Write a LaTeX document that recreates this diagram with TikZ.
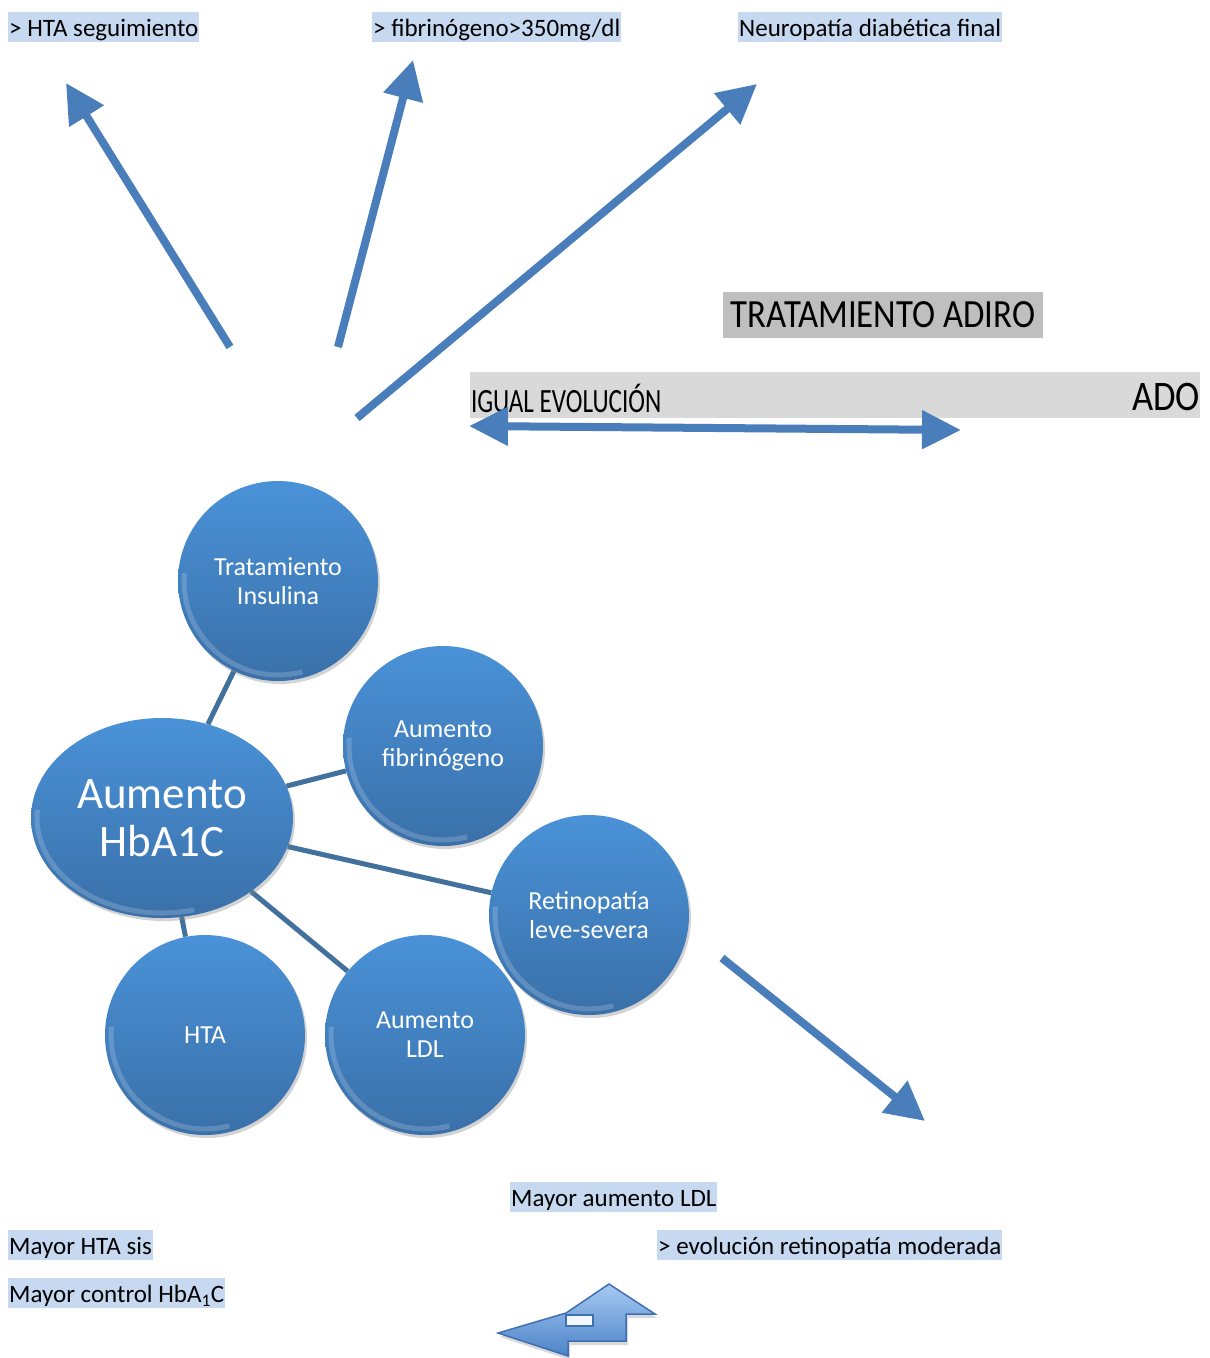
\documentclass[tikz,border=0pt]{standalone}
\usepackage{fontspec}
\setmainfont{Carlito}
\newfontfamily\narrowA[FakeStretch=0.74]{Carlito}
\newfontfamily\narrowB[FakeStretch=0.87]{Carlito}
\usetikzlibrary{arrows.meta,positioning,shapes.geometric,shadows,backgrounds}

\definecolor{tagblue}{HTML}{C6D9F1}
\definecolor{boxgray}{HTML}{BFBFBF}
\definecolor{bargray}{HTML}{D9D9D9}
\definecolor{arrowblue}{HTML}{4A7EBB}
\definecolor{linkblue}{HTML}{41719C}
\definecolor{balltop}{HTML}{4A92D8}
\definecolor{ballbot}{HTML}{3A70A9}
\definecolor{bendtop}{HTML}{A7C9F3}
\definecolor{bendbot}{HTML}{4C83C8}
\definecolor{bendline}{HTML}{3E70B2}

\tikzset{
  tag/.style={fill=tagblue, anchor=west, inner xsep=1pt, inner ysep=0pt,
    minimum height=30pt, text height=20pt, text depth=2pt,
    font=\fontsize{25}{28}\selectfont},
  ball/.style={circle, minimum size=200pt, inner sep=0pt, align=center,
    text=white, font=\fontsize{26}{29}\selectfont,
    top color=balltop, bottom color=ballbot,
    drop shadow={opacity=.35, shadow xshift=2pt, shadow yshift=-3pt}},
  rim/.style 2 args={path picture={
    \draw[white, opacity=.18, line width=5pt]
      (path picture bounding box.center) ++(175:#1 and #2)
      arc[start angle=175, end angle=285, x radius=#1, y radius=#2];}},
  link/.style={draw=linkblue, line width=5pt},
  bigarrow/.style={draw=arrowblue, line width=8pt,
    -{Triangle[length=39pt,width=39pt]},
    preaction={draw=black, opacity=.18,
      transform canvas={xshift=2pt, yshift=-3pt}}},
}

\begin{document}
\begin{tikzpicture}[x=1pt, y=-1pt]
\useasboundingbox (0,0) rectangle (1210,1358);

% labels
 \node[tag] (hta-seg) at (8,27) {> HTA seguimiento};
 \node[tag] (fib-350) at (372,27) {> fibrinógeno>350mg/dl};
 \node[tag] (neuro) at (738,27) {Neuropatía diabética final};
 \node[tag] (ldl-more) at (510,1197) {Mayor aumento LDL};
 \node[tag] (hta-sis) at (8,1245) {Mayor HTA sis};
 \node[tag, below=18pt of hta-sis.south west, anchor=north west] (hba-ctrl)
   {Mayor control HbA\textsubscript{1}C};
 \node[tag] (retino-mod) at (657,1245) {> evolución retinopatía moderada};

% adiro vs ado
 \node[fill=boxgray, minimum width=320pt, minimum height=46pt, inner sep=0pt,
   font=\narrowB\fontsize{40}{44}\selectfont] (adiro) at (883,315) {TRATAMIENTO ADIRO};
 \node[fill=bargray, minimum width=730pt, minimum height=46pt, inner sep=0pt] (evol) at (835,395) {};
 \node[anchor=west, inner sep=1pt, font=\narrowA\fontsize{34}{38}\selectfont]
   (igual) at ([yshift=-3pt]evol.west) {IGUAL EVOLUCIÓN};
 \node[anchor=east, inner sep=0pt, font=\narrowB\fontsize{42}{44}\selectfont]
   (ado) at ([yshift=-2pt]evol.east) {ADO};

% bubbles
 \node[ball, ellipse, minimum width=262pt, minimum height=200pt,
   font=\fontsize{45}{48}\selectfont, rim={125pt}{95pt}] (hba) at (162,818) {Aumento\\HbA1C};
 \node[ball, rim={94pt}{94pt}] (ins) at (278,581) {Tratamiento\\Insulina};
 \node[ball, rim={94pt}{94pt}] (fib) at (443,746) {Aumento\\fibrinógeno};
 \node[ball, rim={94pt}{94pt}] (ret) at (589,915) {Retinopatía\\leve-severa};
 \node[ball, rim={94pt}{94pt}] (hta) at (205,1035) {HTA};
 \node[ball, rim={94pt}{94pt}] (ldl) at (425,1035) {Aumento\\LDL};

% links
 \begin{scope}[on background layer]
  \foreach \n in {ins,fib,ret,hta,ldl}
   \draw[link] (hba) -- (\n);
 \end{scope}

% arrows
 \coordinate (foot-hta) at (230,347);
 \coordinate (tip-hta) at (66,83);
 \coordinate (foot-fib) at (338,347);
 \coordinate (tip-fib) at (413,60);
 \coordinate (foot-neuro) at (357,418);
 \coordinate (tip-neuro) at (757,84);
 \coordinate (foot-retino) at (722,958);
 \coordinate (tip-retino) at (925,1121);
 \coordinate (evo-l) at (469,426);
 \coordinate (evo-r) at (961,430);
 \draw[bigarrow] (foot-hta) -- (tip-hta);
 \draw[bigarrow] (foot-fib) -- (tip-fib);
 \draw[bigarrow] (foot-neuro) -- (tip-neuro);
 \draw[bigarrow] (foot-retino) -- (tip-retino);
 \draw[bigarrow, {Triangle[length=39pt,width=37pt]}-{Triangle[length=39pt,width=37pt]}]
   (evo-l) -- (evo-r);

% bent arrow
 \filldraw[draw=bendline, line width=1.5pt, top color=bendtop, bottom color=bendbot,
   drop shadow={opacity=.3, shadow xshift=2pt, shadow yshift=-4pt}]
   (609,1284) -- (655,1314) -- (626,1314) -- (626,1341) -- (568,1341)
   -- (568,1356) -- (498,1333) -- (566,1313) -- cycle;
 \filldraw[draw=bendline, line width=1.5pt, fill=white!85!bendtop]
   (566,1315) rectangle (593,1326);
\end{tikzpicture}
\end{document}
